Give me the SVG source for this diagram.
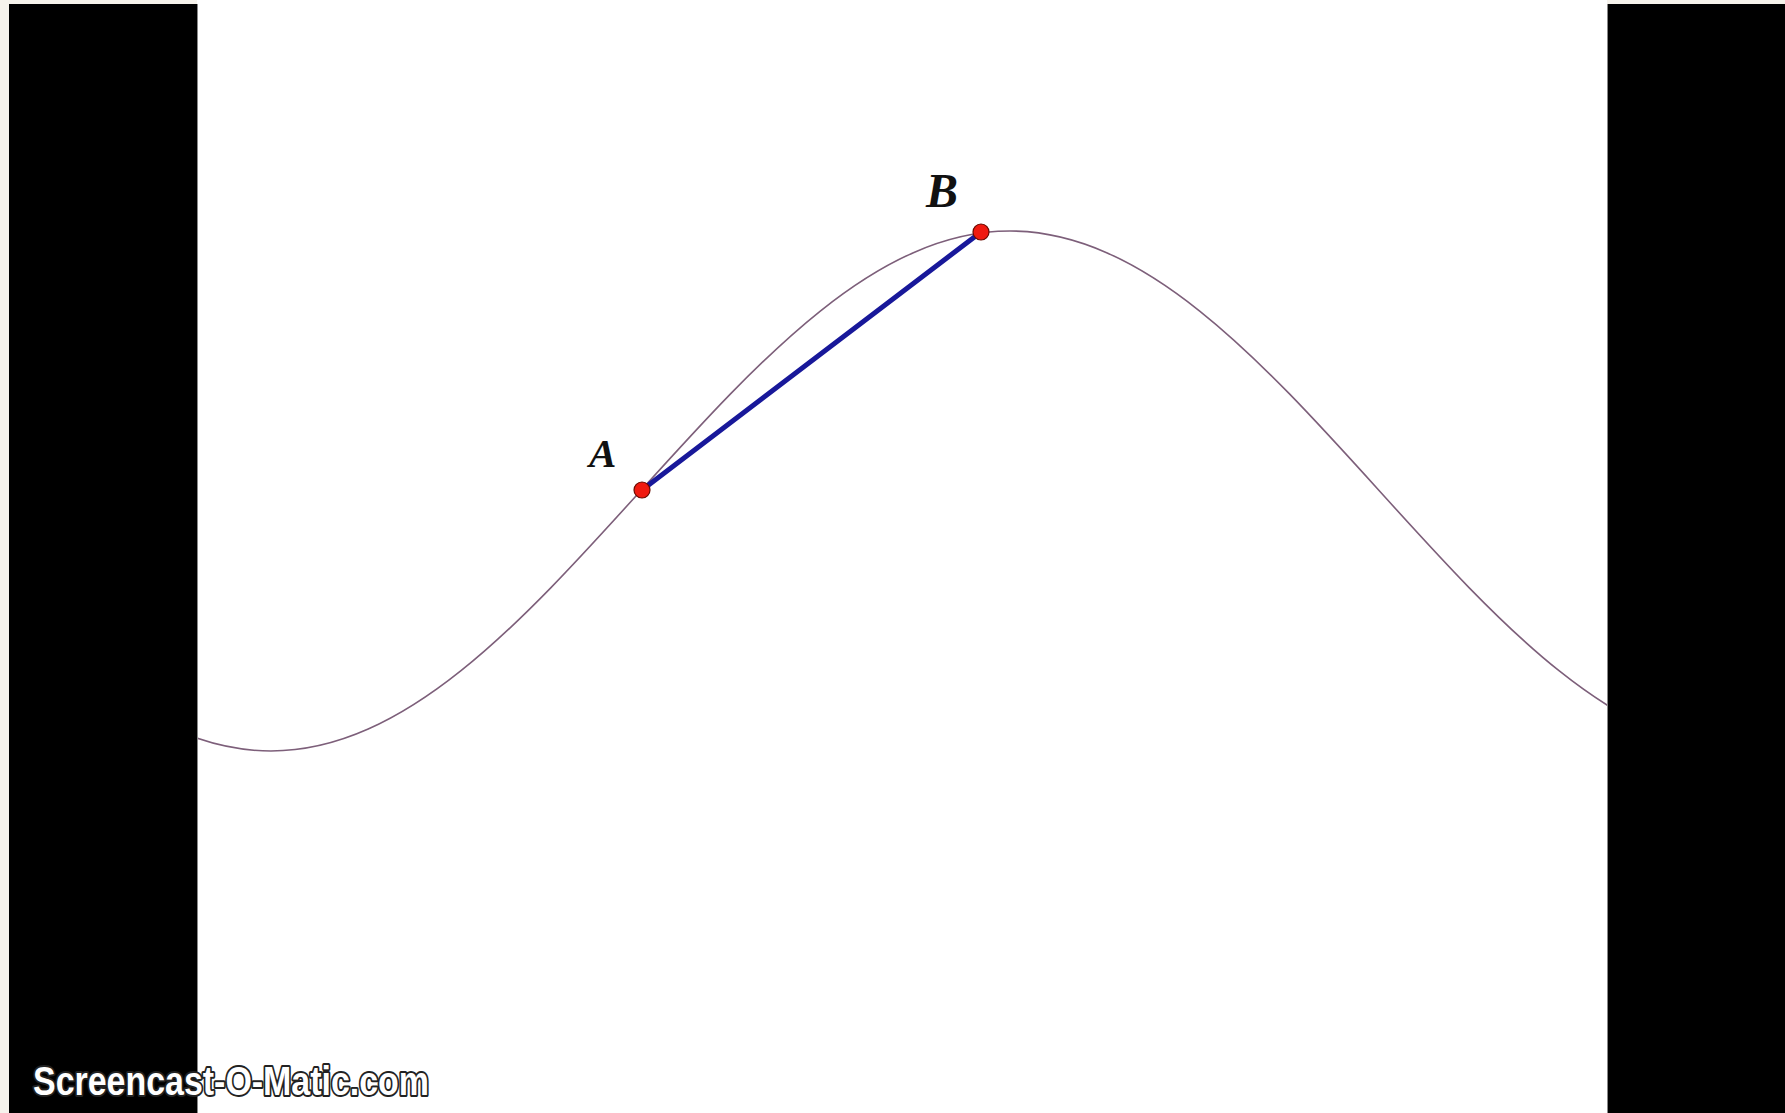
<svg xmlns="http://www.w3.org/2000/svg" width="1785" height="1113" viewBox="0 0 1785 1113">
<style>
.curve{fill:none;stroke:#7d5f7a;stroke-width:1.6}
.seg{stroke:#18189a;stroke-width:5;stroke-linecap:round}
.pt{fill:#f01a10;stroke:#6a0a00;stroke-width:1.2}
.lbl{font-family:"Liberation Serif",serif;font-style:italic;font-weight:bold;fill:#111}
.bar{fill:#000}
.wm{font-family:"Liberation Sans",sans-serif;font-weight:bold;fill:#fff;stroke:#222;stroke-width:4;paint-order:stroke;stroke-linejoin:round}
</style>
<defs>
<clipPath id="area"><rect x="197" y="0" width="1410" height="1113"/></clipPath>
</defs>
<rect x="0" y="0" width="1785" height="1113" fill="#f6f3ec"/>
<rect x="197" y="0" width="1410" height="1113" fill="#ffffff"/>
<g id="curve" clip-path="url(#area)">
<path class="curve" d="M-98.5,491 C22,624.2 137.3,751 271,751 C404.7,751 520,624.2 640.5,491 C761,357.8 876.3,231 1010,231 C1143.7,231 1259,357.8 1379.5,491 C1500,624.2 1615.3,751 1749,751"/>
</g>
<g id="connectors">
<line class="seg" x1="642" y1="490" x2="981" y2="232"/>
</g>
<g id="A">
<circle class="pt" cx="642" cy="490" r="8"/>
<text class="lbl" x="589" y="467" font-size="41">A</text>
</g>
<g id="B">
<circle class="pt" cx="981" cy="232" r="8"/>
<text class="lbl" x="926" y="207" font-size="48">B</text>
</g>
<rect class="bar" x="9" y="4" width="188" height="1109"/>
<rect class="bar" x="1607" y="4" width="178" height="1109"/>
<line x1="197.5" y1="4" x2="197.5" y2="1113" stroke="#888" stroke-width="1"/>
<line x1="1607.5" y1="4" x2="1607.5" y2="1113" stroke="#888" stroke-width="1"/>
<text class="wm" x="33" y="1095" font-size="40" textLength="396" lengthAdjust="spacingAndGlyphs">Screencast-O-Matic.com</text>
</svg>
